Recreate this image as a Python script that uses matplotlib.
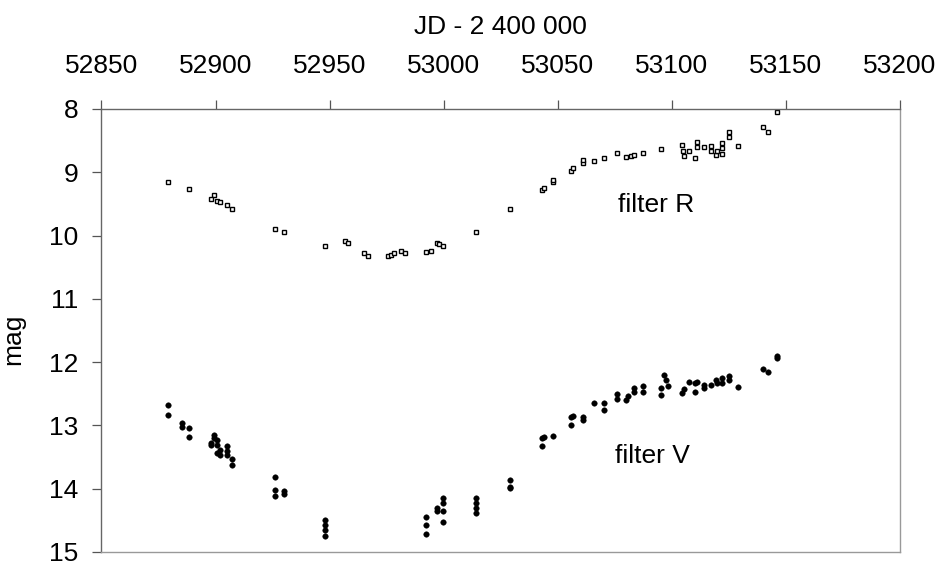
import matplotlib
matplotlib.use("Agg")
import matplotlib.pyplot as plt

plt.rcParams['font.family'] = ['Liberation Sans', 'DejaVu Sans']

# Filter R (open squares)
r_jd = [52879.0, 52888.2, 52899.3, 52897.9, 52900.8, 52901.8, 52904.9, 52907.2,
        52926.0, 52930.0, 52948.1, 52956.9, 52958.0, 52964.9, 52966.9, 52975.7,
        52976.8, 52978.2, 52981.2, 52982.9, 52992.1, 52994.3, 52996.9, 52997.9,
        52999.9, 53014.2, 53029.1, 53042.9, 53044.0, 53047.9, 53048.0, 53055.8,
        53056.5, 53061.2, 53061.2, 53066.0, 53070.1, 53076.1, 53079.9, 53082.0,
        53083.4, 53087.2, 53095.2, 53104.3, 53105.0, 53105.3, 53107.7, 53110.0,
        53110.9, 53111.0, 53114.1, 53117.0, 53117.0, 53119.4, 53119.7, 53121.8,
        53121.8, 53121.8, 53124.9, 53125.0, 53128.9, 53140.1, 53142.0, 53146.0]
r_mag = [9.15, 9.27, 9.36, 9.43, 9.46, 9.47, 9.52, 9.58,
         9.90, 9.94, 10.16, 10.09, 10.11, 10.27, 10.32, 10.33,
         10.30, 10.28, 10.25, 10.27, 10.26, 10.24, 10.12, 10.14,
         10.17, 9.95, 9.58, 9.28, 9.25, 9.16, 9.13, 8.98,
         8.93, 8.86, 8.81, 8.82, 8.77, 8.69, 8.76, 8.74,
         8.72, 8.69, 8.64, 8.57, 8.66, 8.74, 8.66, 8.77,
         8.52, 8.60, 8.60, 8.58, 8.66, 8.73, 8.67, 8.54,
         8.62, 8.71, 8.37, 8.45, 8.58, 8.29, 8.37, 8.04]

# Filter V (filled circles)
v_jd = [52879.0, 52879.0, 52885.2, 52885.2, 52888.2, 52888.2, 52897.9, 52897.9,
        52899.3, 52899.3, 52900.8, 52900.8, 52901.8, 52901.8, 52900.8, 52904.9,
        52904.9, 52904.9, 52907.2, 52907.2, 52926.0, 52926.0, 52926.0, 52930.0,
        52930.0, 52948.1, 52948.1, 52948.1, 52948.1, 52992.1, 52992.1, 52992.1,
        52996.9, 52996.9, 52999.9, 52999.9, 52999.9, 52999.9, 53014.2, 53014.2,
        53014.2, 53014.2, 53029.1, 53029.1, 53029.1, 53042.9, 53042.9, 53044.0,
        53047.9, 53055.8, 53055.8, 53056.5, 53061.2, 53061.2, 53066.0, 53070.1,
        53070.1, 53076.1, 53076.1, 53079.9, 53080.9, 53083.4, 53083.4, 53087.2,
        53087.2, 53095.2, 53095.2, 53096.6, 53097.5, 53098.5, 53104.3, 53105.3,
        53107.7, 53110.0, 53110.0, 53110.9, 53114.1, 53114.1, 53117.0, 53119.4,
        53119.7, 53121.8, 53121.8, 53124.9, 53125.0, 53128.9, 53140.1, 53142.0,
        53146.0, 53146.0]
v_mag = [12.67, 12.83, 12.96, 13.03, 13.04, 13.19, 13.28, 13.31,
         13.15, 13.20, 13.23, 13.31, 13.39, 13.46, 13.43, 13.33,
         13.41, 13.47, 13.53, 13.62, 13.82, 14.02, 14.11, 14.03,
         14.08, 14.49, 14.57, 14.65, 14.74, 14.44, 14.58, 14.71,
         14.31, 14.36, 14.15, 14.22, 14.36, 14.53, 14.15, 14.23,
         14.31, 14.39, 13.87, 13.97, 13.99, 13.20, 13.32, 13.18,
         13.17, 12.86, 12.99, 12.85, 12.86, 12.92, 12.65, 12.65,
         12.76, 12.50, 12.59, 12.60, 12.53, 12.41, 12.47, 12.38,
         12.47, 12.41, 12.52, 12.20, 12.28, 12.38, 12.49, 12.43,
         12.31, 12.33, 12.47, 12.31, 12.36, 12.41, 12.36, 12.28,
         12.33, 12.25, 12.33, 12.22, 12.29, 12.40, 12.11, 12.15,
         11.90, 11.93]

x_ticks = [52850, 52900, 52950, 53000, 53050, 53100, 53150, 53200]
y_ticks = [8, 9, 10, 11, 12, 13, 14, 15]

fig = plt.figure(figsize=(9.43, 5.70), dpi=100)
ax = fig.add_axes([0.1076, 0.0316, 0.8468, 0.7772])

ax.plot(r_jd, r_mag, linestyle='none', marker='s', markersize=3.3,
        markerfacecolor='white', markeredgecolor='black', markeredgewidth=1.0)
ax.plot(v_jd, v_mag, linestyle='none', marker='o', markersize=4.0,
        markerfacecolor='black', markeredgecolor='black', markeredgewidth=0.3)

ax.set_xlim(52850, 53200)
ax.set_ylim(15, 8)
ax.set_xticks(x_ticks)
ax.set_yticks(y_ticks)
ax.set_xticklabels([str(t) for t in x_ticks])
ax.set_yticklabels([str(t) for t in y_ticks])

ax.xaxis.tick_top()
ax.xaxis.set_label_position('top')
ax.tick_params(axis='x', which='both', top=True, bottom=False, direction='out',
               length=6.5, width=0.9, color='#555555', labelsize=19, pad=16)
ax.tick_params(axis='y', which='both', left=True, right=False, direction='out',
               length=6.5, width=0.9, color='#555555', labelsize=19, pad=10)

ax.set_xlabel('JD - 2 400 000', fontsize=19, labelpad=14)
ax.set_ylabel('mag', fontsize=19)
ax.yaxis.set_label_coords(-0.095, 0.48)

ax.spines['top'].set_color('#666666')
ax.spines['left'].set_color('#666666')
ax.spines['right'].set_color('#999999')
ax.spines['bottom'].set_color('#999999')
for s in ax.spines.values():
    s.set_linewidth(1.0)

ax.text(53076.4, 9.52, 'filter R', fontsize=19, ha='left', va='center')
ax.text(53075.1, 13.48, 'filter V', fontsize=19, ha='left', va='center')

fig.savefig('out.png', dpi=100)
